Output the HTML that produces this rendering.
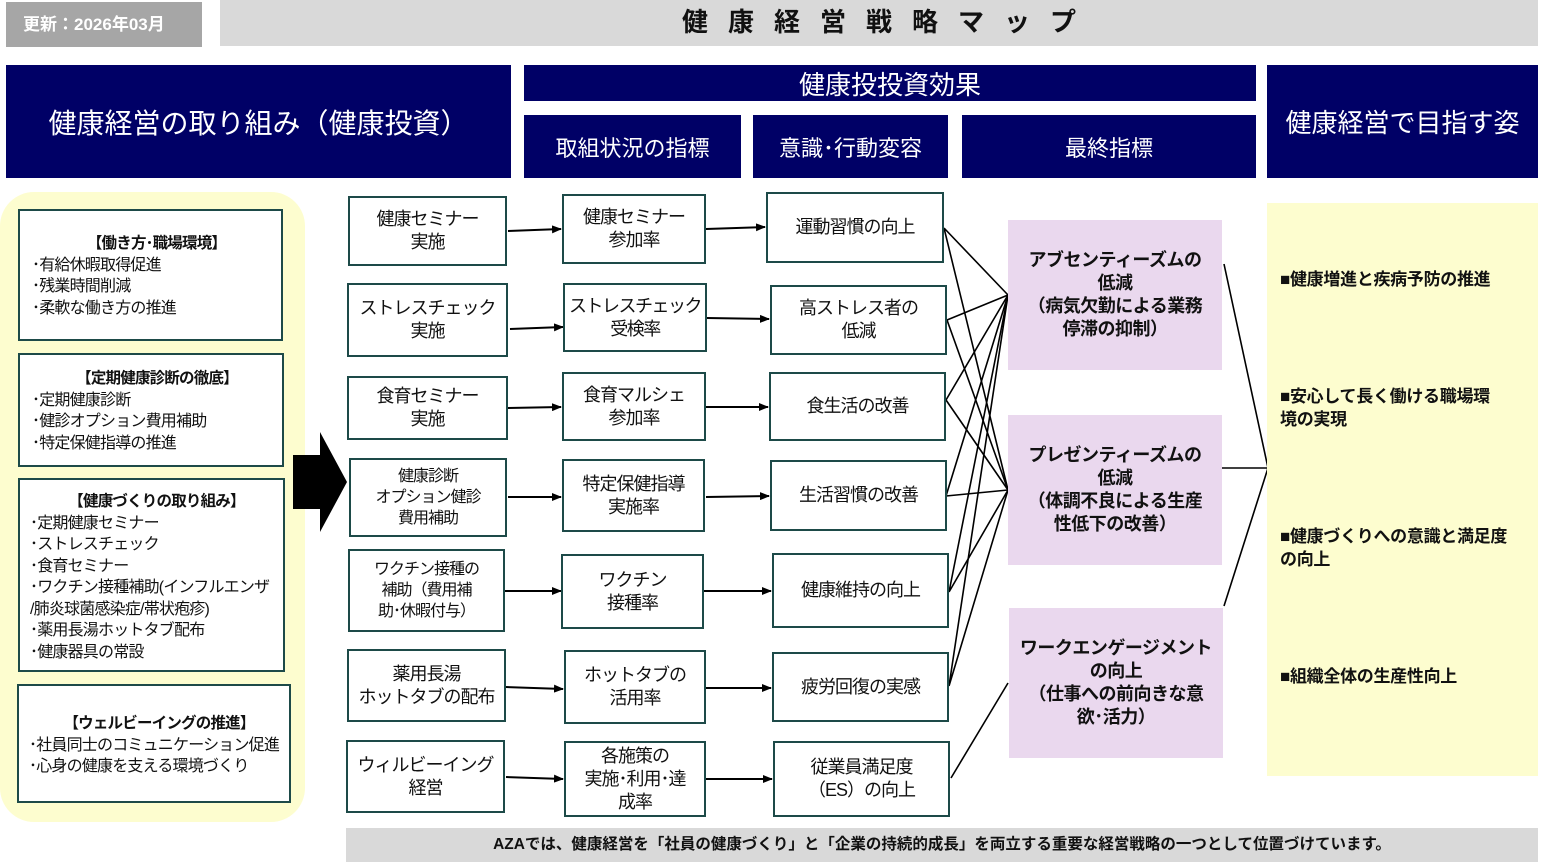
<!DOCTYPE html>
<html><head><meta charset="utf-8">
<style>
*{margin:0;padding:0;box-sizing:border-box}
body{width:1547px;height:867px;background:#fff;position:relative;overflow:hidden;font-family:"Liberation Sans","Noto Sans CJK JP",sans-serif;color:#111}
.a{position:absolute}
.nv{position:absolute;background:#000066;color:#fff;display:flex;align-items:center;justify-content:center;text-align:center}
.bx{position:absolute;border:2px solid #1d4a48;background:#fff;display:flex;align-items:center;justify-content:center;text-align:center;font-size:18px;line-height:23px;letter-spacing:-1px;white-space:nowrap}
.lb{position:absolute;border:2px solid #1d4a48;background:#fff;font-size:16px;line-height:21.5px;padding-left:12px;letter-spacing:-0.8px;white-space:nowrap}
.lb b{display:block;text-align:center;font-size:15.5px}
.pk{position:absolute;background:#ead8ee;display:flex;align-items:center;justify-content:center;text-align:center;font-weight:bold;font-size:18px;line-height:23px;letter-spacing:-0.5px;white-space:nowrap}
.gl{position:absolute;left:1280px;font-weight:bold;font-size:17px;line-height:23px;width:258px;letter-spacing:-0.3px}
</style></head><body>
<div class="a" style="left:6px;top:2px;width:196px;height:45px;background:#a6a6a6;color:#fff;font-weight:bold;font-size:17px;line-height:45px;padding-left:17px">更新：2026年03月</div>
<div class="a" style="left:220px;top:0;width:1318px;height:46px;background:#d9d9d9;text-align:center;font-weight:bold;font-size:26px;line-height:44px;letter-spacing:20px;padding-left:20px">健康経営戦略マップ</div>

<div class="nv" style="left:6px;top:65px;width:505px;height:113px;font-size:28px">健康経営の取り組み（健康投資）</div>
<div class="nv" style="left:524px;top:65px;width:732px;height:36px;font-size:26px">健康投投資効果</div>
<div class="nv" style="left:524px;top:115px;width:217px;height:63px;font-size:22px">取組状況の指標</div>
<div class="nv" style="left:753px;top:115px;width:195px;height:63px;font-size:22px">意識･行動変容</div>
<div class="nv" style="left:962px;top:115px;width:294px;height:63px;font-size:22px">最終指標</div>
<div class="nv" style="left:1267px;top:65px;width:271px;height:113px;font-size:26px">健康経営で目指す姿</div>

<div class="a" style="left:0;top:192px;width:305px;height:630px;background:#fdfdcf;border-radius:34px"></div>
<div class="lb" style="left:18px;top:209px;width:265px;height:132px;padding-top:22px"><b>【働き方･職場環境】</b>･有給休暇取得促進<br>･残業時間削減<br>･柔軟な働き方の推進</div>
<div class="lb" style="left:18px;top:353px;width:266px;height:114px;padding-top:13px"><b>【定期健康診断の徹底】</b>･定期健康診断<br>･健診オプション費用補助<br>･特定保健指導の推進</div>
<div class="lb" style="left:18px;top:478px;width:267px;height:194px;padding-top:11px;padding-left:10px"><b>【健康づくりの取り組み】</b>･定期健康セミナー<br>･ストレスチェック<br>･食育セミナー<br>･ワクチン接種補助(インフルエンザ<br>/肺炎球菌感染症/帯状疱疹)<br>･薬用長湯ホットタブ配布<br>･健康器具の常設</div>
<div class="lb" style="left:17px;top:684px;width:274px;height:119px;padding-top:27px;padding-left:10px"><b>【ウェルビーイングの推進】</b>･社員同士のコミュニケーション促進<br>･心身の健康を支える環境づくり</div>

<svg class="a" style="left:0;top:0" width="1547" height="867">
<defs><marker id="ar" markerWidth="10" markerHeight="8" refX="9" refY="4" orient="auto" markerUnits="userSpaceOnUse"><path d="M0,0L10,4L0,8z" fill="#000"/></marker></defs>
<path d="M293,455H320V432L347,482L320,532V509H293Z" fill="#000"/>
<g stroke="#000" stroke-width="2" marker-end="url(#ar)">
<line x1="508" y1="231" x2="561" y2="229"/>
<line x1="510" y1="329" x2="563" y2="327"/>
<line x1="508" y1="408" x2="561" y2="407"/>
<line x1="508" y1="497" x2="561" y2="497"/>
<line x1="505" y1="591" x2="561" y2="591"/>
<line x1="506" y1="687" x2="563" y2="689"/>
<line x1="506" y1="777" x2="563" y2="779"/>
<line x1="706" y1="229" x2="765" y2="227"/>
<line x1="707" y1="318" x2="769" y2="319"/>
<line x1="706" y1="407" x2="768" y2="407"/>
<line x1="706" y1="497" x2="769" y2="496"/>
<line x1="704" y1="591" x2="771" y2="591"/>
<line x1="706" y1="688" x2="771" y2="688"/>
<line x1="706" y1="779" x2="772" y2="779"/>
</g>
<g stroke="#000" stroke-width="1.6" fill="none">
<path d="M944,228L1008,295M944,228L1008,490"/>
<path d="M947,320L1008,295M947,320L1008,490"/>
<path d="M946,400L1008,295M946,400L1008,490"/>
<path d="M946,496L1008,295M946,496L1008,490"/>
<path d="M949,592L1008,295M949,592L1008,490"/>
<path d="M949,686L1008,295M949,686L1008,490"/>
<path d="M951,778L1008,683"/>
<path d="M1224,264L1268,468L1224,606M1222,468H1268"/>
</g>
</svg>

<div class="bx" style="left:348px;top:196px;width:159px;height:70px">健康セミナー<br>実施</div>
<div class="bx" style="left:347px;top:283px;width:161px;height:74px">ストレスチェック<br>実施</div>
<div class="bx" style="left:347px;top:376px;width:161px;height:64px">食育セミナー<br>実施</div>
<div class="bx" style="left:349px;top:458px;width:158px;height:79px;font-size:16px;line-height:21px">健康診断<br>オプション健診<br>費用補助</div>
<div class="bx" style="left:348px;top:549px;width:157px;height:83px;font-size:16px;line-height:21px">ワクチン接種の<br>補助（費用補<br>助･休暇付与）</div>
<div class="bx" style="left:347px;top:649px;width:159px;height:73px">薬用長湯<br>ホットタブの配布</div>
<div class="bx" style="left:346px;top:740px;width:159px;height:73px">ウィルビーイング<br>経営</div>

<div class="bx" style="left:562px;top:194px;width:144px;height:70px">健康セミナー<br>参加率</div>
<div class="bx" style="left:563px;top:283px;width:144px;height:69px;letter-spacing:-1.5px">ストレスチェック<br>受検率</div>
<div class="bx" style="left:562px;top:372px;width:144px;height:69px">食育マルシェ<br>参加率</div>
<div class="bx" style="left:562px;top:459px;width:143px;height:73px">特定保健指導<br>実施率</div>
<div class="bx" style="left:561px;top:554px;width:143px;height:75px">ワクチン<br>接種率</div>
<div class="bx" style="left:564px;top:650px;width:142px;height:74px">ホットタブの<br>活用率</div>
<div class="bx" style="left:564px;top:741px;width:142px;height:76px">各施策の<br>実施･利用･達<br>成率</div>

<div class="bx" style="left:766px;top:192px;width:178px;height:71px">運動習慣の向上</div>
<div class="bx" style="left:770px;top:285px;width:177px;height:70px">高ストレス者の<br>低減</div>
<div class="bx" style="left:769px;top:372px;width:177px;height:69px">食生活の改善</div>
<div class="bx" style="left:770px;top:460px;width:177px;height:71px">生活習慣の改善</div>
<div class="bx" style="left:772px;top:553px;width:177px;height:75px">健康維持の向上</div>
<div class="bx" style="left:772px;top:652px;width:177px;height:70px">疲労回復の実感</div>
<div class="bx" style="left:773px;top:741px;width:177px;height:76px">従業員満足度<br>（ES）の向上</div>

<div class="pk" style="left:1008px;top:220px;width:214px;height:150px">アブセンティーズムの<br>低減<br>（病気欠勤による業務<br>停滞の抑制）</div>
<div class="pk" style="left:1008px;top:415px;width:214px;height:150px">プレゼンティーズムの<br>低減<br>（体調不良による生産<br>性低下の改善）</div>
<div class="pk" style="left:1009px;top:608px;width:214px;height:150px">ワークエンゲージメント<br>の向上<br>（仕事への前向きな意<br>欲･活力）</div>

<div class="a" style="left:1267px;top:203px;width:271px;height:573px;background:#fdfdcf"></div>
<div class="gl" style="top:268px">■健康増進と疾病予防の推進</div>
<div class="gl" style="top:385px">■安心して長く働ける職場環<br>境の実現</div>
<div class="gl" style="top:525px">■健康づくりへの意識と満足度<br>の向上</div>
<div class="gl" style="top:665px">■組織全体の生産性向上</div>

<div class="a" style="left:346px;top:828px;width:1192px;height:34px;background:#d9d9d9;text-align:center;font-weight:bold;font-size:15.5px;line-height:34px">AZAでは、健康経営を「社員の健康づくり」と「企業の持続的成長」を両立する重要な経営戦略の一つとして位置づけています。</div>
</body></html>
